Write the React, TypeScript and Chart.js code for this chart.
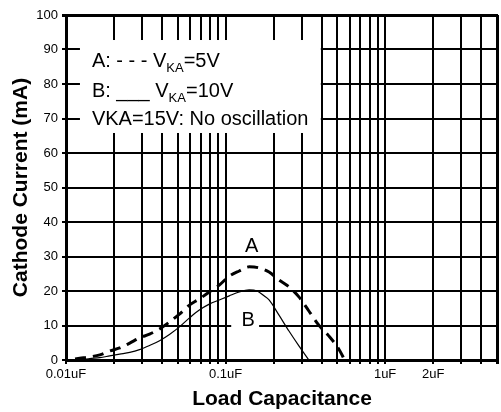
import React, { useEffect, useRef } from "react";
import { Chart, registerables } from "chart.js";

Chart.register(...registerables);

const FONT = "'Liberation Sans', Arial, Helvetica, sans-serif";

// Load capacitance (uF) and cathode current (mA)
const curveAX = [0.0114, 0.0122, 0.0141, 0.0163, 0.0188, 0.0217, 0.0251, 0.0289, 0.0334, 0.0386, 0.0445, 0.0514, 0.0594, 0.0685, 0.0791, 0.0913, 0.1055, 0.1218, 0.1406, 0.1623, 0.1874, 0.2163, 0.2497, 0.2882, 0.3328, 0.3841, 0.4435, 0.5121, 0.5582];
const curveAY = [0.3, 0.5, 0.9, 1.5, 2.6, 3.5, 4.9, 6.4, 7.5, 9.0, 11.0, 13.3, 15.9, 17.7, 19.7, 21.7, 24.3, 25.8, 27.0, 26.7, 25.5, 23.2, 21.2, 18.3, 14.2, 10.1, 7.0, 3.2, 0];

const curveBX = [0.0131, 0.0141, 0.0163, 0.0188, 0.0217, 0.0251, 0.0289, 0.0334, 0.0386, 0.0445, 0.0514, 0.0594, 0.0685, 0.0791, 0.0913, 0.1055, 0.1218, 0.1406, 0.1577, 0.1743, 0.1874, 0.2163, 0.2497, 0.2882, 0.3328];
const curveBY = [0.2, 0.4, 0.7, 1.2, 1.7, 2.2, 3.0, 4.2, 5.6, 7.4, 9.6, 12.2, 14.5, 16.2, 17.4, 18.6, 19.7, 20.3, 20.0, 18.6, 17.4, 13.0, 8.4, 4.1, 0];

const X_MIN = 0.01;
const X_MAX = 5.1;
const xTickValues = [0.01, 0.02, 0.03, 0.04, 0.05, 0.06, 0.07, 0.08, 0.09, 0.1, 0.2, 0.3, 0.4, 0.5, 0.6, 0.7, 0.8, 0.9, 1, 2, 3, 4, 5, 5.1];
const xTickLabels = ["0.01uF", "", "", "", "", "", "", "", "", "0.1uF", "", "", "", "", "", "", "", "", "1uF", "2uF", "", "", "", ""];

const Y_MIN = 0;
const Y_MAX = 100;
const Y_STEP = 5;

const xTitle = "Load Capacitance";
const yTitle = "Cathode Current (mA)";

// Note box (data coordinates) and its lines
const noteBoxX = [0.01223, 0.3954];
const noteBoxY = [92.75, 65.8];
const noteTextX = 0.01453;
const noteLineY = [85.0, 76.3, 68.1];
const noteLines = [
  [{ t: "A: - - - V" }, { t: "KA", sub: true }, { t: "=5V" }],
  [{ t: "B: ___ V" }, { t: "KA", sub: true }, { t: "=10V" }],
  [{ t: "VKA=15V: No oscillation" }],
];

// Curve labels
const curveLabels = [
  { text: "A", x: 0.1457, y: 31.3, boxX: [0.1166, 0.1743], boxY: [37, 31] },
  { text: "B", x: 0.1385, y: 9.86, boxX: [0.1085, 0.1623], boxY: [14.5, 7.8] },
];

const annotatePlugin = {
  id: "annotate",
  beforeDatasetsDraw(chart: any) {
    const { ctx } = chart;
    const xs = chart.scales.x;
    const ys = chart.scales.y;
    const px = (v: number) => xs.getPixelForValue(v);
    const py = (v: number) => ys.getPixelForValue(v);
    ctx.save();
    ctx.fillStyle = "#fff";
    ctx.fillRect(px(noteBoxX[0]), py(noteBoxY[0]), px(noteBoxX[1]) - px(noteBoxX[0]), py(noteBoxY[1]) - py(noteBoxY[0]));
    curveLabels.forEach((l) => {
      ctx.fillRect(px(l.boxX[0]), py(l.boxY[0]), px(l.boxX[1]) - px(l.boxX[0]), py(l.boxY[1]) - py(l.boxY[0]));
    });
    ctx.fillStyle = "#000";
    ctx.textBaseline = "alphabetic";
    ctx.textAlign = "left";
    noteLines.forEach((segs, i) => {
      let cx = px(noteTextX);
      const by = py(noteLineY[i]);
      segs.forEach((s: any) => {
        ctx.font = s.sub ? `13px ${FONT}` : `20px ${FONT}`;
        ctx.fillText(s.t, cx, s.sub ? by + 5 : by);
        cx += ctx.measureText(s.t).width;
      });
    });
    ctx.font = `20px ${FONT}`;
    ctx.textAlign = "center";
    curveLabels.forEach((l) => {
      ctx.fillText(l.text, px(l.x), py(l.y));
    });
    ctx.restore();
  },
};

export default function App() {
  const ref = useRef<HTMLCanvasElement | null>(null);
  useEffect(() => {
    if (!ref.current) return;
    const chart = new Chart(ref.current, {
      type: "line",
      data: {
        datasets: [
          {
            label: "A",
            data: curveAX.map((x, i) => ({ x, y: curveAY[i] })),
            borderColor: "#000",
            borderWidth: 3,
            borderDash: [11, 7],
            pointRadius: 0,
            cubicInterpolationMode: "monotone",
            fill: false,
          },
          {
            label: "B",
            data: curveBX.map((x, i) => ({ x, y: curveBY[i] })),
            borderColor: "#000",
            borderWidth: 1.2,
            pointRadius: 0,
            cubicInterpolationMode: "monotone",
            fill: false,
          },
        ],
      },
      options: {
        responsive: false,
        animation: false,
        devicePixelRatio: 1,
        layout: { padding: { top: 15, right: 1, left: 0, bottom: 0 } },
        plugins: { legend: { display: false }, tooltip: { enabled: false } },
        scales: {
          x: {
            type: "logarithmic",
            min: X_MIN,
            max: X_MAX,
            afterBuildTicks: (s: any) => {
              s.ticks = xTickValues.map((v) => ({ value: v }));
            },
            afterFit: (s: any) => {
              s.height = 52;
            },
            ticks: {
              autoSkip: false,
              maxRotation: 0,
              padding: 3,
              color: "#000",
              font: { family: FONT, size: 13 },
              callback: (_v: any, i: number) => xTickLabels[i] ?? "",
            },
            grid: { color: "#000", lineWidth: 2, tickLength: 4 },
            border: { color: "#000", width: 3 },
            title: {
              display: true,
              text: xTitle,
              color: "#000",
              font: { family: FONT, size: 21, weight: "bold" },
              padding: { top: 0, bottom: 0 },
            },
          },
          y: {
            min: Y_MIN,
            max: Y_MAX,
            afterFit: (s: any) => {
              s.width = 66;
            },
            ticks: {
              stepSize: Y_STEP,
              padding: 4,
              color: "#000",
              font: { family: FONT, size: 13 },
              callback: (v: any) => (Number(v) % 10 === 0 ? String(v) : ""),
            },
            grid: {
              color: "#000",
              lineWidth: (c: any) => (c.tick && c.tick.value === Y_MAX ? 3 : 2),
              tickLength: 4,
            },
            border: { color: "#000", width: 3 },
            title: {
              display: true,
              text: yTitle,
              color: "#000",
              font: { family: FONT, size: 21, weight: "bold" },
              padding: { top: 9, bottom: 0 },
            },
          },
        },
      },
      plugins: [annotatePlugin],
    } as any);
    return () => chart.destroy();
  }, []);
  return (
    <div style={{ position: "absolute", left: 0, top: 0, width: 501, height: 412, background: "#fff" }}>
      <canvas ref={ref} width={501} height={412} style={{ display: "block" }} />
    </div>
  );
}
